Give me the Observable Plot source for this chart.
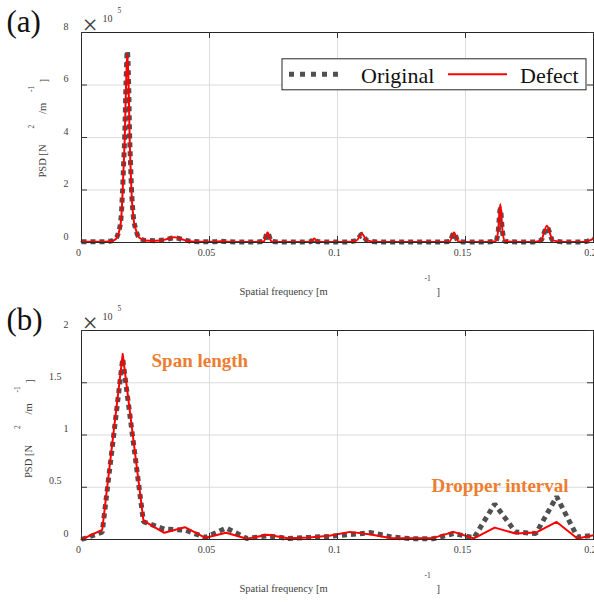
<!DOCTYPE html>
<html><head><meta charset="utf-8">
<script src="https://cdn.jsdelivr.net/npm/d3@7"></script>
<script src="https://cdn.jsdelivr.net/npm/@observablehq/plot@0.6"></script>
<style>
html,body{margin:0;padding:0;background:#fff;overflow:hidden;}
#chart svg{display:block;}
</style></head><body><div id="chart"></div>
<script>
// ---------- DATA (PSD values in units of 1e5 N^2/m^-1) ----------
const seriesNames = ["Original", "Defect"];

// panel (a)
const freqA = [0, 0.004, 0.008, 0.011, 0.013, 0.0145, 0.0155, 0.016, 0.0165, 0.0169, 0.0174, 0.0179, 0.0184, 0.0188, 0.0192, 0.0195, 0.0202, 0.0212, 0.0227, 0.025, 0.029, 0.0325, 0.0364, 0.040, 0.043, 0.047, 0.052, 0.0545, 0.057, 0.062, 0.067, 0.0712, 0.0727, 0.0742, 0.078, 0.085, 0.0895, 0.0909, 0.0923, 0.097, 0.103, 0.1075, 0.1095, 0.1115, 0.116, 0.124, 0.132, 0.14, 0.1438, 0.1455, 0.1472, 0.152, 0.158, 0.1618, 0.1628, 0.1636, 0.1644, 0.1654, 0.170, 0.176, 0.1795, 0.1818, 0.1841, 0.189, 0.195, 0.1985, 0.2];
const origA = [0.03, 0.03, 0.03, 0.05, 0.12, 0.4, 1.0, 1.9, 3.1, 4.1, 6.1, 7.3, 6.1, 4.1, 2.9, 2.1, 1.05, 0.5, 0.17, 0.08, 0.07, 0.1, 0.18, 0.1, 0.04, 0.03, 0.03, 0.05, 0.03, 0.02, 0.02, 0.04, 0.37, 0.04, 0.02, 0.02, 0.03, 0.15, 0.03, 0.02, 0.02, 0.08, 0.31, 0.08, 0.02, 0.02, 0.02, 0.02, 0.04, 0.36, 0.04, 0.02, 0.02, 0.05, 0.45, 1.28, 0.45, 0.05, 0.02, 0.02, 0.08, 0.58, 0.08, 0.02, 0.02, 0.08, 0.14];
const defA  = [0.03, 0.03, 0.03, 0.05, 0.1, 0.35, 0.9, 1.8, 3.0, 4.0, 6.0, 7.2, 6.0, 4.0, 2.8, 2.0, 1.0, 0.5, 0.17, 0.08, 0.07, 0.11, 0.2, 0.1, 0.04, 0.03, 0.03, 0.05, 0.03, 0.02, 0.02, 0.04, 0.38, 0.04, 0.02, 0.02, 0.03, 0.15, 0.03, 0.02, 0.02, 0.08, 0.33, 0.08, 0.02, 0.02, 0.02, 0.02, 0.04, 0.38, 0.04, 0.02, 0.02, 0.05, 0.5, 1.47, 0.5, 0.05, 0.02, 0.02, 0.08, 0.64, 0.08, 0.02, 0.02, 0.08, 0.15];

// panel (b)
const freqB = [0, 0.0081, 0.0161, 0.0242, 0.0323, 0.0404, 0.0484, 0.0565, 0.0646, 0.0726, 0.0807, 0.0888, 0.0968, 0.1049, 0.1130, 0.1211, 0.1291, 0.1372, 0.1453, 0.1533, 0.1614, 0.1695, 0.1775, 0.1856, 0.1937, 0.2];
const origB = [0, 0.07, 1.73, 0.17, 0.10, 0.09, 0.02, 0.11, 0.01, 0.035, 0.01, 0.02, 0.03, 0.047, 0.066, 0.025, 0.006, 0.006, 0.057, 0.016, 0.34, 0.073, 0.057, 0.41, 0.025, 0.04];
const defB  = [0, 0.093, 1.775, 0.18, 0.064, 0.118, 0.016, 0.064, 0.007, 0.045, 0.013, 0.019, 0.035, 0.073, 0.047, 0.013, 0.013, 0.013, 0.073, 0.01, 0.114, 0.057, 0.066, 0.168, 0.01, 0.04];

// ticks
const xTicks = [0, 0.05, 0.1, 0.15, 0.2];
const xTickLabels = ["0", "0.05", "0.1", "0.15", "0.2"];
const yTicksA = [0, 2, 4, 6, 8];
const yTickLabelsA = ["0", "2", "4", "6", "8"];
const yTicksB = [0, 0.5, 1, 1.5, 2];
const yTickLabelsB = ["0", "0.5", "1", "1.5", "2"];

const annotations = ["Span length", "Dropper interval"];

// ---------- DRAWING ----------
const FONT = "'Liberation Serif','Times New Roman',Times,serif";
const W = 594, ML = 81, MR = 1;
const GRAY = "#505050", RED = "#ff0000", ORANGE = "#ed7d31", TXT = "#404040";

function panel(o) {
  const fh = o.height - o.mt - o.mb;
  const fw = W - ML - MR;
  const dO = o.freq.map((f, i) => ({f, v: o.orig[i], s: seriesNames[0]}));
  const dD = o.freq.map((f, i) => ({f, v: o.def[i], s: seriesNames[1]}));
  const ticks = o.yTicks.map((t, i) => ({t, lab: o.yLabels[i]}));
  const ySingle = ticks.filter(d => d.lab.length === 1);
  const yMulti = ticks.filter(d => d.lab.length > 1);
  const ty = o.titleX; // x-centre of y title (svg px)
  const marks = [
    Plot.gridX(xTicks, {stroke: "#dcdcdc", strokeOpacity: 1}),
    Plot.gridY(o.yTicks, {stroke: "#dcdcdc", strokeOpacity: 1}),
    Plot.line(dO, {x: "f", y: "v", stroke: GRAY, strokeWidth: 5, strokeDasharray: "5,4", strokeLinecap: "butt", strokeLinejoin: "miter", curve: o.curve}),
    Plot.line(dD, {x: "f", y: "v", stroke: RED, strokeWidth: 2, curve: o.curve}),
    Plot.frame({stroke: "#262626"}),
    Plot.tickX(xTicks, {x: d => d, insetTop: fh - 6, stroke: "#333"}),
    Plot.tickX(xTicks, {x: d => d, insetBottom: fh - 6, stroke: "#333"}),
    Plot.tickY(o.yTicks, {y: d => d, insetRight: fw - 6, stroke: "#333"}),
    Plot.tickY(o.yTicks, {y: d => d, insetLeft: fw - 6, stroke: "#333"}),
    Plot.text(xTicks, {x: d => d, text: (d, i) => xTickLabels[i], frameAnchor: "bottom", dy: 13.5, dx: -3, fill: TXT, fontSize: 10}),
    Plot.text(ySingle, {y: "t", text: "lab", frameAnchor: "left", textAnchor: "end", dx: -13, dy: -6, fill: TXT, fontSize: 10}),
    Plot.text(yMulti, {y: "t", text: "lab", frameAnchor: "left", textAnchor: "end", dx: -20, dy: -6, fill: TXT, fontSize: 10}),
    // x-axis title (MATLAB-style broken superscript)
    Plot.text(["Spatial frequency [m"], {frameAnchor: "bottom-left", textAnchor: "start", lineAnchor: "bottom", dx: 158, dy: 52.5, fill: TXT, fontSize: 10.5}),
    Plot.text(["-1"], {frameAnchor: "bottom-left", dx: 343, dy: 38, fill: TXT, fontSize: 7.5}),
    Plot.text(["]"], {frameAnchor: "bottom-left", textAnchor: "start", lineAnchor: "bottom", dx: 355, dy: 52.5, fill: TXT, fontSize: 10.5}),
    // y-axis title pieces
    Plot.text(["PSD [N"], {frameAnchor: "top-left", rotate: -90, dx: ty - ML, dy: o.psdY - o.mt, fill: TXT, fontSize: 10.5}),
    Plot.text(["2"], {frameAnchor: "top-left", rotate: -90, dx: ty - 10 - ML, dy: o.psdY - 49 - o.mt, fill: TXT, fontSize: 7.5}),
    Plot.text(["/m"], {frameAnchor: "top-left", rotate: -90, dx: ty - ML, dy: o.psdY - 63.5 - o.mt, fill: TXT, fontSize: 10.5}),
    Plot.text(["-1"], {frameAnchor: "top-left", rotate: -90, dx: ty - 10 - ML, dy: o.psdY - 85.5 - o.mt, fill: TXT, fontSize: 7.5}),
    Plot.text(["]"], {frameAnchor: "top-left", rotate: -90, dx: ty + 1 - ML, dy: o.psdY - 95 - o.mt, fill: TXT, fontSize: 10.5}),
    // exponent  ×10^5
    Plot.text(["\u00d7"], {frameAnchor: "top-left", dx: 1, dy: -18, fill: TXT, fontSize: 27}),
    Plot.text(["10"], {frameAnchor: "top-left", dx: 21, dy: -17.5, fill: TXT, fontSize: 10}),
    Plot.text(["5"], {frameAnchor: "top-left", dx: 36, dy: -25, fill: TXT, fontSize: 7.5}),
    // panel letter
    Plot.text([o.letter], {frameAnchor: "top-left", textAnchor: "start", lineAnchor: "bottom", dx: -75, dy: -1, fill: "#111", fontSize: 31}),
    ...(o.extra || [])
  ];
  return Plot.plot({
    width: W, height: o.height,
    marginLeft: ML, marginRight: MR, marginTop: o.mt, marginBottom: o.mb,
    x: {domain: [0, 0.2], axis: null},
    y: {domain: [0, o.yMax], axis: null},
    style: {fontFamily: FONT, background: "white", overflow: "visible"},
    marks
  });
}

const svgA = panel({
  freq: freqA, orig: origA, def: defA, yTicks: yTicksA, yLabels: yTickLabelsA, yMax: 8,
  height: 298, mt: 32, mb: 56, letter: "(a)", titleX: 38, psdY: 177, curve: "monotone-x"
});
const svgB = panel({
  freq: freqB, orig: origB, def: defB, yTicks: yTicksB, yLabels: yTickLabelsB, yMax: 2,
  height: 304, mt: 32, mb: 63, letter: "(b)", titleX: 24, psdY: 179.5, curve: "linear",
  extra: [
    Plot.text([annotations[0]], {frameAnchor: "top-left", textAnchor: "start", lineAnchor: "bottom", dx: 70, dy: 36, fill: ORANGE, fontWeight: "bold", fontSize: 19}),
    Plot.text([annotations[1]], {frameAnchor: "top-left", textAnchor: "start", lineAnchor: "bottom", dx: 350, dy: 161, fill: ORANGE, fontWeight: "bold", fontSize: 19})
  ]
});

const chart = document.getElementById("chart");
chart.appendChild(svgA);
chart.appendChild(svgB);

// legend for panel (a)
const lg = d3.select(svgA).append("g").attr("font-family", FONT).attr("text-anchor", "start");
lg.append("rect").attr("x", 282).attr("y", 58.8).attr("width", 304).attr("height", 31)
  .attr("fill", "white").attr("stroke", "#262626").attr("stroke-width", 1);
lg.append("line").attr("x1", 289).attr("x2", 342).attr("y1", 74.3).attr("y2", 74.3)
  .attr("stroke", GRAY).attr("stroke-width", 5).attr("stroke-dasharray", "5,6");
lg.append("text").attr("x", 361).attr("y", 83).attr("font-size", 22).attr("fill", "#111").text(seriesNames[0]);
lg.append("line").attr("x1", 448).attr("x2", 507).attr("y1", 74.3).attr("y2", 74.3)
  .attr("stroke", RED).attr("stroke-width", 2);
lg.append("text").attr("x", 520).attr("y", 83).attr("font-size", 22).attr("fill", "#111").text(seriesNames[1]);
</script>
</body></html>
